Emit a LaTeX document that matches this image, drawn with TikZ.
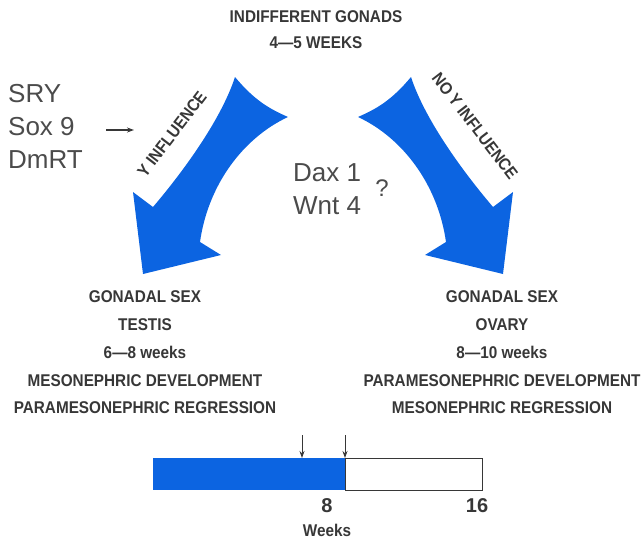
\documentclass[tikz,border=0pt]{standalone}
\usepackage{fontspec}
\usepackage{tikz}
\usetikzlibrary{arrows.meta}
\newfontfamily\genefont{Liberation Sans}
\newfontfamily\capsfont[FakeStretch=0.9]{Liberation Sans}
\definecolor{arrowblue}{RGB}{12,100,225}
\definecolor{inkgray}{RGB}{55,55,55}
\definecolor{genegray}{RGB}{75,75,75}

\begin{document}
\begin{tikzpicture}[x=1pt,y=-1pt,>={Stealth[length=7pt,width=5pt]},
  caps node/.style={inner sep=0pt,align=center,text=inkgray,
    font=\capsfont\bfseries\fontsize{17}{26}\selectfont},
  gene node/.style={inner sep=0pt,align=left,text=genegray,
    font=\genefont\fontsize{26}{33}\selectfont},
  tick node/.style={inner sep=0pt,text=inkgray,
    font=\genefont\bfseries\fontsize{20}{24}\selectfont},
  big arrow/.pic={
    \fill[arrowblue] (235,77) .. controls (255,101) and (270,109) .. (288,117)
      .. controls (243,138) and (208,185) .. (200,242)
      -- (221,255) -- (143,274) -- (133,192) -- (153,207)
      .. controls (187,167) and (222,117) .. (235,77) -- cycle;
  }]
  \useasboundingbox (0,0) rectangle (643,541);

  % the two big arrows
  \pic (yarrow) at (0,0) {big arrow};
  \pic[xscale=-1] (noyarrow) at (646,0) {big arrow};

  % texts
  \node[caps node] (indiff) at (316,30) {INDIFFERENT GONADS\\4—5 WEEKS};
  \node[gene node,anchor=north west] (genes) at (8,84.5) {SRY\\Sox 9\\DmRT};
  \node[gene node,anchor=north west] (dax) at (293,163) {Dax 1\\Wnt 4};
  \node[gene node,font=\genefont\fontsize{24}{28}\selectfont] (quest) at (382,188.5) {?};
  \node[caps node,rotate=52.5] (yinf) at (172,134) {Y INFLUENCE};
  \node[caps node,rotate=-52.5] (noyinf) at (475,126) {NO Y INFLUENCE};

  \node[caps node,font=\capsfont\bfseries\fontsize{17}{27.75}\selectfont] (testis) at (145,352.5)
    {GONADAL SEX\\TESTIS\\6—8 weeks\\MESONEPHRIC DEVELOPMENT\\PARAMESONEPHRIC REGRESSION};
  \node[caps node,font=\capsfont\bfseries\fontsize{17}{27.75}\selectfont] (ovary) at (502,352.5)
    {GONADAL SEX\\OVARY\\8—10 weeks\\PARAMESONEPHRIC DEVELOPMENT\\MESONEPHRIC REGRESSION};

  % small arrow from the genes
  \coordinate (sryA) at (106,130);
  \coordinate (sryB) at (134,130);
  \draw[->,line width=1.3pt,inkgray] (sryA) -- (sryB);

  % time bar
  \coordinate (barNW) at (153,458);
  \coordinate (barMid) at (345,490);
  \coordinate (barMidN) at (345,458);
  \coordinate (barSE) at (482,490);
  \fill[arrowblue] (barNW) rectangle (barMid);
  \draw[line width=0.9pt,inkgray] (barMidN) rectangle (barSE);

  \coordinate (markA) at (302,435);
  \coordinate (markAend) at (302,458);
  \coordinate (markB) at (345,435);
  \coordinate (markBend) at (345,458);
  \draw[->,line width=0.9pt,inkgray] (markA) -- (markAend);
  \draw[->,line width=0.9pt,inkgray] (markB) -- (markBend);

  \node[tick node] (eight) at (327,506) {8};
  \node[tick node] (sixteen) at (477,506) {16};
  \node[caps node] (weeks) at (327,530) {Weeks};
\end{tikzpicture}
\end{document}
